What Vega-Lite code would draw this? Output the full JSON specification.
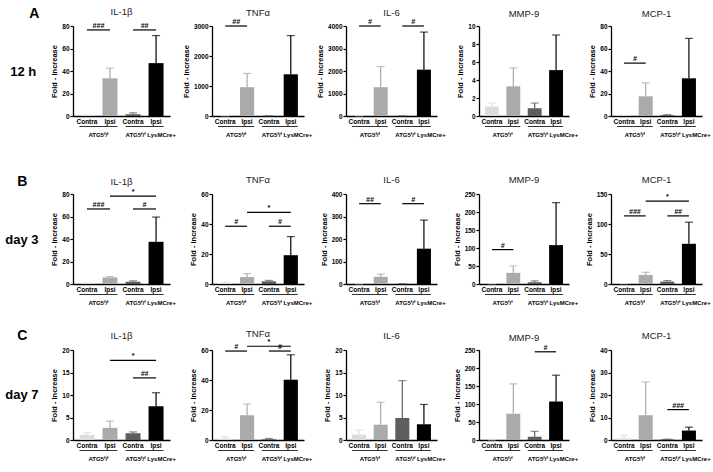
{
"$schema": "https://vega.github.io/schema/vega-lite/v6.json",
"padding": {"left": 5, "top": 7, "right": 0, "bottom": 0},
"datasets": {
"bars": [
{"panel":"12 h/IL-1β","cond":"ATG5 Contra","mean":0.5,"hi":0.7},
{"panel":"12 h/IL-1β","cond":"ATG5 Ipsi","mean":33.5,"hi":42.5},
{"panel":"12 h/IL-1β","cond":"LysMCre Contra","mean":1.5,"hi":2.8},
{"panel":"12 h/IL-1β","cond":"LysMCre Ipsi","mean":47,"hi":71.5},
{"panel":"12 h/TNFα","cond":"ATG5 Contra","mean":5,"hi":8},
{"panel":"12 h/TNFα","cond":"ATG5 Ipsi","mean":960,"hi":1420},
{"panel":"12 h/TNFα","cond":"LysMCre Contra","mean":5,"hi":8},
{"panel":"12 h/TNFα","cond":"LysMCre Ipsi","mean":1390,"hi":2680},
{"panel":"12 h/IL-6","cond":"ATG5 Contra","mean":5,"hi":8},
{"panel":"12 h/IL-6","cond":"ATG5 Ipsi","mean":1280,"hi":2200},
{"panel":"12 h/IL-6","cond":"LysMCre Contra","mean":5,"hi":8},
{"panel":"12 h/IL-6","cond":"LysMCre Ipsi","mean":2060,"hi":3730},
{"panel":"12 h/MMP-9","cond":"ATG5 Contra","mean":1.05,"hi":1.44},
{"panel":"12 h/MMP-9","cond":"ATG5 Ipsi","mean":3.3,"hi":5.35},
{"panel":"12 h/MMP-9","cond":"LysMCre Contra","mean":0.86,"hi":1.44},
{"panel":"12 h/MMP-9","cond":"LysMCre Ipsi","mean":5.1,"hi":9.0},
{"panel":"12 h/MCP-1","cond":"ATG5 Contra","mean":0.4,"hi":0.6},
{"panel":"12 h/MCP-1","cond":"ATG5 Ipsi","mean":17.5,"hi":29.5},
{"panel":"12 h/MCP-1","cond":"LysMCre Contra","mean":0.8,"hi":1.2},
{"panel":"12 h/MCP-1","cond":"LysMCre Ipsi","mean":33.5,"hi":69},
{"panel":"day 3/IL-1β","cond":"ATG5 Contra","mean":0.5,"hi":0.7},
{"panel":"day 3/IL-1β","cond":"ATG5 Ipsi","mean":5.8,"hi":6.6},
{"panel":"day 3/IL-1β","cond":"LysMCre Contra","mean":2.0,"hi":2.8},
{"panel":"day 3/IL-1β","cond":"LysMCre Ipsi","mean":37.5,"hi":59.5},
{"panel":"day 3/TNFα","cond":"ATG5 Contra","mean":0.8,"hi":1.2},
{"panel":"day 3/TNFα","cond":"ATG5 Ipsi","mean":4.6,"hi":6.9},
{"panel":"day 3/TNFα","cond":"LysMCre Contra","mean":1.8,"hi":2.4},
{"panel":"day 3/TNFα","cond":"LysMCre Ipsi","mean":19.2,"hi":31.6},
{"panel":"day 3/IL-6","cond":"ATG5 Contra","mean":0.5,"hi":0.7},
{"panel":"day 3/IL-6","cond":"ATG5 Ipsi","mean":32,"hi":44},
{"panel":"day 3/IL-6","cond":"LysMCre Contra","mean":1,"hi":1.5},
{"panel":"day 3/IL-6","cond":"LysMCre Ipsi","mean":157,"hi":284},
{"panel":"day 3/MMP-9","cond":"ATG5 Contra","mean":0.5,"hi":0.7},
{"panel":"day 3/MMP-9","cond":"ATG5 Ipsi","mean":31,"hi":50},
{"panel":"day 3/MMP-9","cond":"LysMCre Contra","mean":4.6,"hi":8.7},
{"panel":"day 3/MMP-9","cond":"LysMCre Ipsi","mean":108,"hi":226},
{"panel":"day 3/MCP-1","cond":"ATG5 Contra","mean":0.4,"hi":0.6},
{"panel":"day 3/MCP-1","cond":"ATG5 Ipsi","mean":15,"hi":19.6},
{"panel":"day 3/MCP-1","cond":"LysMCre Contra","mean":4,"hi":5.7},
{"panel":"day 3/MCP-1","cond":"LysMCre Ipsi","mean":67,"hi":103},
{"panel":"day 7/IL-1β","cond":"ATG5 Contra","mean":1.1,"hi":1.6},
{"panel":"day 7/IL-1β","cond":"ATG5 Ipsi","mean":2.7,"hi":4.2},
{"panel":"day 7/IL-1β","cond":"LysMCre Contra","mean":1.5,"hi":1.8},
{"panel":"day 7/IL-1β","cond":"LysMCre Ipsi","mean":7.5,"hi":10.5},
{"panel":"day 7/TNFα","cond":"ATG5 Contra","mean":0.9,"hi":2.1},
{"panel":"day 7/TNFα","cond":"ATG5 Ipsi","mean":16.5,"hi":24},
{"panel":"day 7/TNFα","cond":"LysMCre Contra","mean":0.5,"hi":1.0},
{"panel":"day 7/TNFα","cond":"LysMCre Ipsi","mean":40.2,"hi":56.8},
{"panel":"day 7/IL-6","cond":"ATG5 Contra","mean":1.2,"hi":2.2},
{"panel":"day 7/IL-6","cond":"ATG5 Ipsi","mean":3.4,"hi":8.4},
{"panel":"day 7/IL-6","cond":"LysMCre Contra","mean":4.9,"hi":13.2},
{"panel":"day 7/IL-6","cond":"LysMCre Ipsi","mean":3.5,"hi":7.9},
{"panel":"day 7/MMP-9","cond":"ATG5 Contra","mean":0.3,"hi":0.4},
{"panel":"day 7/MMP-9","cond":"ATG5 Ipsi","mean":73,"hi":156},
{"panel":"day 7/MMP-9","cond":"LysMCre Contra","mean":8.7,"hi":24},
{"panel":"day 7/MMP-9","cond":"LysMCre Ipsi","mean":107,"hi":180},
{"panel":"day 7/MCP-1","cond":"ATG5 Contra","mean":0.8,"hi":2.0},
{"panel":"day 7/MCP-1","cond":"ATG5 Ipsi","mean":11,"hi":25.8},
{"panel":"day 7/MCP-1","cond":"LysMCre Contra","mean":0.3,"hi":0.4},
{"panel":"day 7/MCP-1","cond":"LysMCre Ipsi","mean":4.2,"hi":5.7}
],
"sig": [
{"panel":"12 h/IL-1β","from":"ATG5 Contra","to":"ATG5 Ipsi","level":76.5,"sym":"###"},
{"panel":"12 h/IL-1β","from":"LysMCre Contra","to":"LysMCre Ipsi","level":76.5,"sym":"##"},
{"panel":"12 h/TNFα","from":"ATG5 Contra","to":"ATG5 Ipsi","level":3000,"sym":"##"},
{"panel":"12 h/IL-6","from":"ATG5 Contra","to":"ATG5 Ipsi","level":4000,"sym":"#"},
{"panel":"12 h/IL-6","from":"LysMCre Contra","to":"LysMCre Ipsi","level":4000,"sym":"#"},
{"panel":"12 h/MCP-1","from":"ATG5 Contra","to":"ATG5 Ipsi","level":47,"sym":"#"},
{"panel":"day 3/IL-1β","from":"ATG5 Contra","to":"ATG5 Ipsi","level":66.7,"sym":"###"},
{"panel":"day 3/IL-1β","from":"LysMCre Contra","to":"LysMCre Ipsi","level":66.7,"sym":"#"},
{"panel":"day 3/IL-1β","from":"ATG5 Ipsi","to":"LysMCre Ipsi","level":78.2,"sym":"*"},
{"panel":"day 3/TNFα","from":"ATG5 Contra","to":"ATG5 Ipsi","level":38.5,"sym":"#"},
{"panel":"day 3/TNFα","from":"LysMCre Contra","to":"LysMCre Ipsi","level":38.5,"sym":"#"},
{"panel":"day 3/TNFα","from":"ATG5 Ipsi","to":"LysMCre Ipsi","level":47.8,"sym":"*"},
{"panel":"day 3/IL-6","from":"ATG5 Contra","to":"ATG5 Ipsi","level":357,"sym":"##"},
{"panel":"day 3/IL-6","from":"LysMCre Contra","to":"LysMCre Ipsi","level":357,"sym":"#"},
{"panel":"day 3/MMP-9","from":"ATG5 Contra","to":"ATG5 Ipsi","level":95.5,"sym":"#"},
{"panel":"day 3/MCP-1","from":"ATG5 Contra","to":"ATG5 Ipsi","level":113.5,"sym":"###"},
{"panel":"day 3/MCP-1","from":"LysMCre Contra","to":"LysMCre Ipsi","level":113.5,"sym":"##"},
{"panel":"day 3/MCP-1","from":"ATG5 Ipsi","to":"LysMCre Ipsi","level":138,"sym":"*"},
{"panel":"day 7/IL-1β","from":"LysMCre Contra","to":"LysMCre Ipsi","level":13.8,"sym":"##"},
{"panel":"day 7/IL-1β","from":"ATG5 Ipsi","to":"LysMCre Ipsi","level":17.7,"sym":"*"},
{"panel":"day 7/TNFα","from":"ATG5 Contra","to":"ATG5 Ipsi","level":59.3,"sym":"#"},
{"panel":"day 7/TNFα","from":"LysMCre Contra","to":"LysMCre Ipsi","level":59.3,"sym":"#"},
{"panel":"day 7/TNFα","from":"ATG5 Ipsi","to":"LysMCre Ipsi","level":62.5,"sym":"*"},
{"panel":"day 7/MMP-9","from":"LysMCre Contra","to":"LysMCre Ipsi","level":245,"sym":"#"},
{"panel":"day 7/MCP-1","from":"LysMCre Contra","to":"LysMCre Ipsi","level":13.5,"sym":"###"}
],
"grp": [
{"from":"ATG5 Contra","to":"ATG5 Ipsi","label":"ATG5ᶠ/ᶠ"},
{"from":"LysMCre Contra","to":"LysMCre Ipsi","label":"ATG5ᶠ/ᶠ LysMCre+"}
]
},
"spacing": 36,
"vconcat": [
{"title":{"text":"A","orient":"top","anchor":"start","frame":"bounds","offset":-14,"fontSize":14,"fontWeight":"bold","color":"#000","dx":19},
 "hconcat":[{"title":{"text":"12 h","orient":"left","angle":0,"anchor":"middle","frame":"bounds","align":"right","baseline":"middle","fontSize":13,"fontWeight":"bold","color":"#000","offset":-21,"dx":-9.5},
  "spacing":42,"bounds":"flush","hconcat":[
{"width":97,"height":90,"title":{"text":"IL-1β","offset":5},"layer":[
{"data":{"name":"bars"},"transform":[{"filter":{"field":"panel","equal":"12 h/IL-1β"}}],"mark":"bar","encoding":{"x":{"field":"cond","type":"nominal","scale":{"domain":["ATG5 Contra","ATG5 Ipsi","LysMCre Contra","LysMCre Ipsi"],"paddingInner":0.35,"paddingOuter":0.28},"axis":{"labelExpr":"split(datum.value,' ')[1]","title":null}},"y":{"field":"mean","type":"quantitative","scale":{"domain":[0,80],"nice":false},"axis":{"values":[0,20,40,60,80],"labelOverlap":false,"title":"Fold - Increase"}},"color":{"field":"cond","type":"nominal","scale":{"domain":["ATG5 Contra","ATG5 Ipsi","LysMCre Contra","LysMCre Ipsi"],"range":["#dcdcdc","#aaaaaa","#5e5e5e","#000000"]},"legend":null}}},
{"data":{"name":"bars"},"transform":[{"filter":{"field":"panel","equal":"12 h/IL-1β"}}],"mark":{"type":"rule","strokeWidth":1.2},"encoding":{"x":{"field":"cond","type":"nominal","axis":{"labelExpr":"split(datum.value,' ')[1]","title":null}},"y":{"field":"mean","type":"quantitative","axis":{"values":[0,20,40,60,80],"labelOverlap":false,"title":"Fold - Increase"}},"y2":{"field":"hi"},"color":{"field":"cond","type":"nominal","legend":null}}},
{"data":{"name":"bars"},"transform":[{"filter":{"field":"panel","equal":"12 h/IL-1β"}}],"mark":{"type":"tick","thickness":1.2,"size":8},"encoding":{"x":{"field":"cond","type":"nominal","axis":{"labelExpr":"split(datum.value,' ')[1]","title":null}},"y":{"field":"hi","type":"quantitative","axis":{"values":[0,20,40,60,80],"labelOverlap":false,"title":"Fold - Increase"}},"color":{"field":"cond","type":"nominal","legend":null}}},
{"data":{"name":"sig"},"transform":[{"filter":{"field":"panel","equal":"12 h/IL-1β"}}],"mark":{"type":"rule","strokeWidth":1.2,"color":"#000"},"encoding":{"x":{"field":"from","type":"nominal","axis":{"labelExpr":"split(datum.value,' ')[1]","title":null}},"x2":{"field":"to"},"y":{"field":"level","type":"quantitative","axis":{"values":[0,20,40,60,80],"labelOverlap":false,"title":"Fold - Increase"}}}},
{"data":{"name":"sig"},"transform":[{"filter":{"field":"panel","equal":"12 h/IL-1β"}},{"filter":"datum.sym !== '*'"}],"mark":{"type":"text","fontSize":7,"fontWeight":"bold","fontStyle":"italic","baseline":"bottom","dy":-1,"color":"#000"},"encoding":{"x":{"field":"from","type":"nominal","bandPosition":1.269,"axis":{"labelExpr":"split(datum.value,' ')[1]","title":null}},"y":{"field":"level","type":"quantitative","axis":{"values":[0,20,40,60,80],"labelOverlap":false,"title":"Fold - Increase"}},"text":{"field":"sym"}}},
{"data":{"name":"grp"},"mark":{"type":"rule","yOffset":10.5,"strokeWidth":0.8,"color":"#000"},"encoding":{"x":{"field":"from","type":"nominal","bandPosition":0,"axis":{"labelExpr":"split(datum.value,' ')[1]","title":null}},"x2":{"field":"to","bandPosition":1},"y":{"datum":0,"type":"quantitative","axis":{"values":[0,20,40,60,80],"labelOverlap":false,"title":"Fold - Increase"}}}},
{"data":{"name":"grp"},"transform":[{"filter":"datum.from === 'ATG5 Contra'"}],"mark":{"type":"text","fontSize":6,"fontWeight":"bold","baseline":"middle","yOffset":18.5,"color":"#000"},"encoding":{"x":{"field":"from","type":"nominal","bandPosition":1.269,"axis":{"labelExpr":"split(datum.value,' ')[1]","title":null}},"y":{"datum":0,"type":"quantitative","axis":{"values":[0,20,40,60,80],"labelOverlap":false,"title":"Fold - Increase"}},"text":{"field":"label"}}},
{"data":{"name":"grp"},"transform":[{"filter":"datum.from === 'LysMCre Contra'"}],"mark":{"type":"text","fontSize":6,"fontWeight":"bold","baseline":"middle","align":"left","yOffset":18.5,"color":"#000"},"encoding":{"x":{"field":"from","type":"nominal","bandPosition":0,"axis":{"labelExpr":"split(datum.value,' ')[1]","title":null}},"y":{"datum":0,"type":"quantitative","axis":{"values":[0,20,40,60,80],"labelOverlap":false,"title":"Fold - Increase"}},"text":{"field":"label"}}}
]},
{"width":92,"height":90,"title":{"text":"TNFα","offset":1},"layer":[
{"data":{"name":"bars"},"transform":[{"filter":{"field":"panel","equal":"12 h/TNFα"}}],"mark":"bar","encoding":{"x":{"field":"cond","type":"nominal","scale":{"domain":["ATG5 Contra","ATG5 Ipsi","LysMCre Contra","LysMCre Ipsi"],"paddingInner":0.35,"paddingOuter":0.28},"axis":{"labelExpr":"split(datum.value,' ')[1]","title":null}},"y":{"field":"mean","type":"quantitative","scale":{"domain":[0,3000],"nice":false},"axis":{"values":[0,1000,2000,3000],"labelOverlap":false,"title":"Fold - Increase"}},"color":{"field":"cond","type":"nominal","scale":{"domain":["ATG5 Contra","ATG5 Ipsi","LysMCre Contra","LysMCre Ipsi"],"range":["#dcdcdc","#aaaaaa","#5e5e5e","#000000"]},"legend":null}}},
{"data":{"name":"bars"},"transform":[{"filter":{"field":"panel","equal":"12 h/TNFα"}}],"mark":{"type":"rule","strokeWidth":1.2},"encoding":{"x":{"field":"cond","type":"nominal","axis":{"labelExpr":"split(datum.value,' ')[1]","title":null}},"y":{"field":"mean","type":"quantitative","axis":{"values":[0,1000,2000,3000],"labelOverlap":false,"title":"Fold - Increase"}},"y2":{"field":"hi"},"color":{"field":"cond","type":"nominal","legend":null}}},
{"data":{"name":"bars"},"transform":[{"filter":{"field":"panel","equal":"12 h/TNFα"}}],"mark":{"type":"tick","thickness":1.2,"size":8},"encoding":{"x":{"field":"cond","type":"nominal","axis":{"labelExpr":"split(datum.value,' ')[1]","title":null}},"y":{"field":"hi","type":"quantitative","axis":{"values":[0,1000,2000,3000],"labelOverlap":false,"title":"Fold - Increase"}},"color":{"field":"cond","type":"nominal","legend":null}}},
{"data":{"name":"sig"},"transform":[{"filter":{"field":"panel","equal":"12 h/TNFα"}}],"mark":{"type":"rule","strokeWidth":1.2,"color":"#000"},"encoding":{"x":{"field":"from","type":"nominal","axis":{"labelExpr":"split(datum.value,' ')[1]","title":null}},"x2":{"field":"to"},"y":{"field":"level","type":"quantitative","axis":{"values":[0,1000,2000,3000],"labelOverlap":false,"title":"Fold - Increase"}}}},
{"data":{"name":"sig"},"transform":[{"filter":{"field":"panel","equal":"12 h/TNFα"}},{"filter":"datum.sym !== '*'"}],"mark":{"type":"text","fontSize":7,"fontWeight":"bold","fontStyle":"italic","baseline":"bottom","dy":-1,"color":"#000"},"encoding":{"x":{"field":"from","type":"nominal","bandPosition":1.269,"axis":{"labelExpr":"split(datum.value,' ')[1]","title":null}},"y":{"field":"level","type":"quantitative","axis":{"values":[0,1000,2000,3000],"labelOverlap":false,"title":"Fold - Increase"}},"text":{"field":"sym"}}},
{"data":{"name":"grp"},"mark":{"type":"rule","yOffset":10.5,"strokeWidth":0.8,"color":"#000"},"encoding":{"x":{"field":"from","type":"nominal","bandPosition":0,"axis":{"labelExpr":"split(datum.value,' ')[1]","title":null}},"x2":{"field":"to","bandPosition":1},"y":{"datum":0,"type":"quantitative","axis":{"values":[0,1000,2000,3000],"labelOverlap":false,"title":"Fold - Increase"}}}},
{"data":{"name":"grp"},"transform":[{"filter":"datum.from === 'ATG5 Contra'"}],"mark":{"type":"text","fontSize":6,"fontWeight":"bold","baseline":"middle","yOffset":18.5,"color":"#000"},"encoding":{"x":{"field":"from","type":"nominal","bandPosition":1.269,"axis":{"labelExpr":"split(datum.value,' ')[1]","title":null}},"y":{"datum":0,"type":"quantitative","axis":{"values":[0,1000,2000,3000],"labelOverlap":false,"title":"Fold - Increase"}},"text":{"field":"label"}}},
{"data":{"name":"grp"},"transform":[{"filter":"datum.from === 'LysMCre Contra'"}],"mark":{"type":"text","fontSize":6,"fontWeight":"bold","baseline":"middle","align":"left","yOffset":18.5,"color":"#000"},"encoding":{"x":{"field":"from","type":"nominal","bandPosition":0,"axis":{"labelExpr":"split(datum.value,' ')[1]","title":null}},"y":{"datum":0,"type":"quantitative","axis":{"values":[0,1000,2000,3000],"labelOverlap":false,"title":"Fold - Increase"}},"text":{"field":"label"}}}
]},
{"width":91,"height":90,"title":{"text":"IL-6","offset":1},"layer":[
{"data":{"name":"bars"},"transform":[{"filter":{"field":"panel","equal":"12 h/IL-6"}}],"mark":"bar","encoding":{"x":{"field":"cond","type":"nominal","scale":{"domain":["ATG5 Contra","ATG5 Ipsi","LysMCre Contra","LysMCre Ipsi"],"paddingInner":0.35,"paddingOuter":0.28},"axis":{"labelExpr":"split(datum.value,' ')[1]","title":null}},"y":{"field":"mean","type":"quantitative","scale":{"domain":[0,4000],"nice":false},"axis":{"values":[0,1000,2000,3000,4000],"labelOverlap":false,"title":"Fold - Increase"}},"color":{"field":"cond","type":"nominal","scale":{"domain":["ATG5 Contra","ATG5 Ipsi","LysMCre Contra","LysMCre Ipsi"],"range":["#dcdcdc","#aaaaaa","#5e5e5e","#000000"]},"legend":null}}},
{"data":{"name":"bars"},"transform":[{"filter":{"field":"panel","equal":"12 h/IL-6"}}],"mark":{"type":"rule","strokeWidth":1.2},"encoding":{"x":{"field":"cond","type":"nominal","axis":{"labelExpr":"split(datum.value,' ')[1]","title":null}},"y":{"field":"mean","type":"quantitative","axis":{"values":[0,1000,2000,3000,4000],"labelOverlap":false,"title":"Fold - Increase"}},"y2":{"field":"hi"},"color":{"field":"cond","type":"nominal","legend":null}}},
{"data":{"name":"bars"},"transform":[{"filter":{"field":"panel","equal":"12 h/IL-6"}}],"mark":{"type":"tick","thickness":1.2,"size":8},"encoding":{"x":{"field":"cond","type":"nominal","axis":{"labelExpr":"split(datum.value,' ')[1]","title":null}},"y":{"field":"hi","type":"quantitative","axis":{"values":[0,1000,2000,3000,4000],"labelOverlap":false,"title":"Fold - Increase"}},"color":{"field":"cond","type":"nominal","legend":null}}},
{"data":{"name":"sig"},"transform":[{"filter":{"field":"panel","equal":"12 h/IL-6"}}],"mark":{"type":"rule","strokeWidth":1.2,"color":"#000"},"encoding":{"x":{"field":"from","type":"nominal","axis":{"labelExpr":"split(datum.value,' ')[1]","title":null}},"x2":{"field":"to"},"y":{"field":"level","type":"quantitative","axis":{"values":[0,1000,2000,3000,4000],"labelOverlap":false,"title":"Fold - Increase"}}}},
{"data":{"name":"sig"},"transform":[{"filter":{"field":"panel","equal":"12 h/IL-6"}},{"filter":"datum.sym !== '*'"}],"mark":{"type":"text","fontSize":7,"fontWeight":"bold","fontStyle":"italic","baseline":"bottom","dy":-1,"color":"#000"},"encoding":{"x":{"field":"from","type":"nominal","bandPosition":1.269,"axis":{"labelExpr":"split(datum.value,' ')[1]","title":null}},"y":{"field":"level","type":"quantitative","axis":{"values":[0,1000,2000,3000,4000],"labelOverlap":false,"title":"Fold - Increase"}},"text":{"field":"sym"}}},
{"data":{"name":"grp"},"mark":{"type":"rule","yOffset":10.5,"strokeWidth":0.8,"color":"#000"},"encoding":{"x":{"field":"from","type":"nominal","bandPosition":0,"axis":{"labelExpr":"split(datum.value,' ')[1]","title":null}},"x2":{"field":"to","bandPosition":1},"y":{"datum":0,"type":"quantitative","axis":{"values":[0,1000,2000,3000,4000],"labelOverlap":false,"title":"Fold - Increase"}}}},
{"data":{"name":"grp"},"transform":[{"filter":"datum.from === 'ATG5 Contra'"}],"mark":{"type":"text","fontSize":6,"fontWeight":"bold","baseline":"middle","yOffset":18.5,"color":"#000"},"encoding":{"x":{"field":"from","type":"nominal","bandPosition":1.269,"axis":{"labelExpr":"split(datum.value,' ')[1]","title":null}},"y":{"datum":0,"type":"quantitative","axis":{"values":[0,1000,2000,3000,4000],"labelOverlap":false,"title":"Fold - Increase"}},"text":{"field":"label"}}},
{"data":{"name":"grp"},"transform":[{"filter":"datum.from === 'LysMCre Contra'"}],"mark":{"type":"text","fontSize":6,"fontWeight":"bold","baseline":"middle","align":"left","yOffset":18.5,"color":"#000"},"encoding":{"x":{"field":"from","type":"nominal","bandPosition":0,"axis":{"labelExpr":"split(datum.value,' ')[1]","title":null}},"y":{"datum":0,"type":"quantitative","axis":{"values":[0,1000,2000,3000,4000],"labelOverlap":false,"title":"Fold - Increase"}},"text":{"field":"label"}}}
]},
{"width":90,"height":90,"title":{"text":"MMP-9","offset":5},"layer":[
{"data":{"name":"bars"},"transform":[{"filter":{"field":"panel","equal":"12 h/MMP-9"}}],"mark":"bar","encoding":{"x":{"field":"cond","type":"nominal","scale":{"domain":["ATG5 Contra","ATG5 Ipsi","LysMCre Contra","LysMCre Ipsi"],"paddingInner":0.35,"paddingOuter":0.28},"axis":{"labelExpr":"split(datum.value,' ')[1]","title":null}},"y":{"field":"mean","type":"quantitative","scale":{"domain":[0,10],"nice":false},"axis":{"values":[0,2,4,6,8,10],"labelOverlap":false,"title":"Fold - Increase"}},"color":{"field":"cond","type":"nominal","scale":{"domain":["ATG5 Contra","ATG5 Ipsi","LysMCre Contra","LysMCre Ipsi"],"range":["#dcdcdc","#aaaaaa","#5e5e5e","#000000"]},"legend":null}}},
{"data":{"name":"bars"},"transform":[{"filter":{"field":"panel","equal":"12 h/MMP-9"}}],"mark":{"type":"rule","strokeWidth":1.2},"encoding":{"x":{"field":"cond","type":"nominal","axis":{"labelExpr":"split(datum.value,' ')[1]","title":null}},"y":{"field":"mean","type":"quantitative","axis":{"values":[0,2,4,6,8,10],"labelOverlap":false,"title":"Fold - Increase"}},"y2":{"field":"hi"},"color":{"field":"cond","type":"nominal","legend":null}}},
{"data":{"name":"bars"},"transform":[{"filter":{"field":"panel","equal":"12 h/MMP-9"}}],"mark":{"type":"tick","thickness":1.2,"size":8},"encoding":{"x":{"field":"cond","type":"nominal","axis":{"labelExpr":"split(datum.value,' ')[1]","title":null}},"y":{"field":"hi","type":"quantitative","axis":{"values":[0,2,4,6,8,10],"labelOverlap":false,"title":"Fold - Increase"}},"color":{"field":"cond","type":"nominal","legend":null}}},
{"data":{"name":"grp"},"mark":{"type":"rule","yOffset":10.5,"strokeWidth":0.8,"color":"#000"},"encoding":{"x":{"field":"from","type":"nominal","bandPosition":0,"axis":{"labelExpr":"split(datum.value,' ')[1]","title":null}},"x2":{"field":"to","bandPosition":1},"y":{"datum":0,"type":"quantitative","axis":{"values":[0,2,4,6,8,10],"labelOverlap":false,"title":"Fold - Increase"}}}},
{"data":{"name":"grp"},"transform":[{"filter":"datum.from === 'ATG5 Contra'"}],"mark":{"type":"text","fontSize":6,"fontWeight":"bold","baseline":"middle","yOffset":18.5,"color":"#000"},"encoding":{"x":{"field":"from","type":"nominal","bandPosition":1.269,"axis":{"labelExpr":"split(datum.value,' ')[1]","title":null}},"y":{"datum":0,"type":"quantitative","axis":{"values":[0,2,4,6,8,10],"labelOverlap":false,"title":"Fold - Increase"}},"text":{"field":"label"}}},
{"data":{"name":"grp"},"transform":[{"filter":"datum.from === 'LysMCre Contra'"}],"mark":{"type":"text","fontSize":6,"fontWeight":"bold","baseline":"middle","align":"left","yOffset":18.5,"color":"#000"},"encoding":{"x":{"field":"from","type":"nominal","bandPosition":0,"axis":{"labelExpr":"split(datum.value,' ')[1]","title":null}},"y":{"datum":0,"type":"quantitative","axis":{"values":[0,2,4,6,8,10],"labelOverlap":false,"title":"Fold - Increase"}},"text":{"field":"label"}}}
]},
{"width":91,"height":90,"title":{"text":"MCP-1","offset":5},"layer":[
{"data":{"name":"bars"},"transform":[{"filter":{"field":"panel","equal":"12 h/MCP-1"}}],"mark":"bar","encoding":{"x":{"field":"cond","type":"nominal","scale":{"domain":["ATG5 Contra","ATG5 Ipsi","LysMCre Contra","LysMCre Ipsi"],"paddingInner":0.35,"paddingOuter":0.28},"axis":{"labelExpr":"split(datum.value,' ')[1]","title":null}},"y":{"field":"mean","type":"quantitative","scale":{"domain":[0,80],"nice":false},"axis":{"values":[0,20,40,60,80],"labelOverlap":false,"title":"Fold - Increase"}},"color":{"field":"cond","type":"nominal","scale":{"domain":["ATG5 Contra","ATG5 Ipsi","LysMCre Contra","LysMCre Ipsi"],"range":["#dcdcdc","#aaaaaa","#5e5e5e","#000000"]},"legend":null}}},
{"data":{"name":"bars"},"transform":[{"filter":{"field":"panel","equal":"12 h/MCP-1"}}],"mark":{"type":"rule","strokeWidth":1.2},"encoding":{"x":{"field":"cond","type":"nominal","axis":{"labelExpr":"split(datum.value,' ')[1]","title":null}},"y":{"field":"mean","type":"quantitative","axis":{"values":[0,20,40,60,80],"labelOverlap":false,"title":"Fold - Increase"}},"y2":{"field":"hi"},"color":{"field":"cond","type":"nominal","legend":null}}},
{"data":{"name":"bars"},"transform":[{"filter":{"field":"panel","equal":"12 h/MCP-1"}}],"mark":{"type":"tick","thickness":1.2,"size":8},"encoding":{"x":{"field":"cond","type":"nominal","axis":{"labelExpr":"split(datum.value,' ')[1]","title":null}},"y":{"field":"hi","type":"quantitative","axis":{"values":[0,20,40,60,80],"labelOverlap":false,"title":"Fold - Increase"}},"color":{"field":"cond","type":"nominal","legend":null}}},
{"data":{"name":"sig"},"transform":[{"filter":{"field":"panel","equal":"12 h/MCP-1"}}],"mark":{"type":"rule","strokeWidth":1.2,"color":"#000"},"encoding":{"x":{"field":"from","type":"nominal","axis":{"labelExpr":"split(datum.value,' ')[1]","title":null}},"x2":{"field":"to"},"y":{"field":"level","type":"quantitative","axis":{"values":[0,20,40,60,80],"labelOverlap":false,"title":"Fold - Increase"}}}},
{"data":{"name":"sig"},"transform":[{"filter":{"field":"panel","equal":"12 h/MCP-1"}},{"filter":"datum.sym !== '*'"}],"mark":{"type":"text","fontSize":7,"fontWeight":"bold","fontStyle":"italic","baseline":"bottom","dy":-1,"color":"#000"},"encoding":{"x":{"field":"from","type":"nominal","bandPosition":1.269,"axis":{"labelExpr":"split(datum.value,' ')[1]","title":null}},"y":{"field":"level","type":"quantitative","axis":{"values":[0,20,40,60,80],"labelOverlap":false,"title":"Fold - Increase"}},"text":{"field":"sym"}}},
{"data":{"name":"grp"},"mark":{"type":"rule","yOffset":10.5,"strokeWidth":0.8,"color":"#000"},"encoding":{"x":{"field":"from","type":"nominal","bandPosition":0,"axis":{"labelExpr":"split(datum.value,' ')[1]","title":null}},"x2":{"field":"to","bandPosition":1},"y":{"datum":0,"type":"quantitative","axis":{"values":[0,20,40,60,80],"labelOverlap":false,"title":"Fold - Increase"}}}},
{"data":{"name":"grp"},"transform":[{"filter":"datum.from === 'ATG5 Contra'"}],"mark":{"type":"text","fontSize":6,"fontWeight":"bold","baseline":"middle","yOffset":18.5,"color":"#000"},"encoding":{"x":{"field":"from","type":"nominal","bandPosition":1.269,"axis":{"labelExpr":"split(datum.value,' ')[1]","title":null}},"y":{"datum":0,"type":"quantitative","axis":{"values":[0,20,40,60,80],"labelOverlap":false,"title":"Fold - Increase"}},"text":{"field":"label"}}},
{"data":{"name":"grp"},"transform":[{"filter":"datum.from === 'LysMCre Contra'"}],"mark":{"type":"text","fontSize":6,"fontWeight":"bold","baseline":"middle","align":"left","yOffset":18.5,"color":"#000"},"encoding":{"x":{"field":"from","type":"nominal","bandPosition":0,"axis":{"labelExpr":"split(datum.value,' ')[1]","title":null}},"y":{"datum":0,"type":"quantitative","axis":{"values":[0,20,40,60,80],"labelOverlap":false,"title":"Fold - Increase"}},"text":{"field":"label"}}}
]}
]}]},
{"spacing":22,"vconcat":[
{"title":{"text":"B","orient":"top","anchor":"start","frame":"bounds","offset":-14,"fontSize":14,"fontWeight":"bold","color":"#000","dx":12},
 "hconcat":[{"title":{"text":"day 3","orient":"left","angle":0,"anchor":"middle","frame":"bounds","align":"right","baseline":"middle","fontSize":13,"fontWeight":"bold","color":"#000","offset":-21},
  "spacing":42,"bounds":"flush","hconcat":[
{"width":97,"height":90,"title":{"text":"IL-1β","offset":2},"layer":[
{"data":{"name":"bars"},"transform":[{"filter":{"field":"panel","equal":"day 3/IL-1β"}}],"mark":"bar","encoding":{"x":{"field":"cond","type":"nominal","scale":{"domain":["ATG5 Contra","ATG5 Ipsi","LysMCre Contra","LysMCre Ipsi"],"paddingInner":0.35,"paddingOuter":0.28},"axis":{"labelExpr":"split(datum.value,' ')[1]","title":null}},"y":{"field":"mean","type":"quantitative","scale":{"domain":[0,80],"nice":false},"axis":{"values":[0,20,40,60,80],"labelOverlap":false,"title":"Fold - Increase"}},"color":{"field":"cond","type":"nominal","scale":{"domain":["ATG5 Contra","ATG5 Ipsi","LysMCre Contra","LysMCre Ipsi"],"range":["#dcdcdc","#aaaaaa","#5e5e5e","#000000"]},"legend":null}}},
{"data":{"name":"bars"},"transform":[{"filter":{"field":"panel","equal":"day 3/IL-1β"}}],"mark":{"type":"rule","strokeWidth":1.2},"encoding":{"x":{"field":"cond","type":"nominal","axis":{"labelExpr":"split(datum.value,' ')[1]","title":null}},"y":{"field":"mean","type":"quantitative","axis":{"values":[0,20,40,60,80],"labelOverlap":false,"title":"Fold - Increase"}},"y2":{"field":"hi"},"color":{"field":"cond","type":"nominal","legend":null}}},
{"data":{"name":"bars"},"transform":[{"filter":{"field":"panel","equal":"day 3/IL-1β"}}],"mark":{"type":"tick","thickness":1.2,"size":8},"encoding":{"x":{"field":"cond","type":"nominal","axis":{"labelExpr":"split(datum.value,' ')[1]","title":null}},"y":{"field":"hi","type":"quantitative","axis":{"values":[0,20,40,60,80],"labelOverlap":false,"title":"Fold - Increase"}},"color":{"field":"cond","type":"nominal","legend":null}}},
{"data":{"name":"sig"},"transform":[{"filter":{"field":"panel","equal":"day 3/IL-1β"}}],"mark":{"type":"rule","strokeWidth":1.2,"color":"#000"},"encoding":{"x":{"field":"from","type":"nominal","axis":{"labelExpr":"split(datum.value,' ')[1]","title":null}},"x2":{"field":"to"},"y":{"field":"level","type":"quantitative","axis":{"values":[0,20,40,60,80],"labelOverlap":false,"title":"Fold - Increase"}}}},
{"data":{"name":"sig"},"transform":[{"filter":{"field":"panel","equal":"day 3/IL-1β"}},{"filter":"datum.sym !== '*'"}],"mark":{"type":"text","fontSize":7,"fontWeight":"bold","fontStyle":"italic","baseline":"bottom","dy":-1,"color":"#000"},"encoding":{"x":{"field":"from","type":"nominal","bandPosition":1.269,"axis":{"labelExpr":"split(datum.value,' ')[1]","title":null}},"y":{"field":"level","type":"quantitative","axis":{"values":[0,20,40,60,80],"labelOverlap":false,"title":"Fold - Increase"}},"text":{"field":"sym"}}},
{"data":{"name":"sig"},"transform":[{"filter":{"field":"panel","equal":"day 3/IL-1β"}},{"filter":"datum.sym === '*'"}],"mark":{"type":"text","fontSize":7,"fontWeight":"bold","baseline":"bottom","dy":-1,"color":"#000"},"encoding":{"x":{"field":"from","type":"nominal","bandPosition":2.038,"axis":{"labelExpr":"split(datum.value,' ')[1]","title":null}},"y":{"field":"level","type":"quantitative","axis":{"values":[0,20,40,60,80],"labelOverlap":false,"title":"Fold - Increase"}},"text":{"field":"sym"}}},
{"data":{"name":"grp"},"mark":{"type":"rule","yOffset":10.5,"strokeWidth":0.8,"color":"#000"},"encoding":{"x":{"field":"from","type":"nominal","bandPosition":0,"axis":{"labelExpr":"split(datum.value,' ')[1]","title":null}},"x2":{"field":"to","bandPosition":1},"y":{"datum":0,"type":"quantitative","axis":{"values":[0,20,40,60,80],"labelOverlap":false,"title":"Fold - Increase"}}}},
{"data":{"name":"grp"},"transform":[{"filter":"datum.from === 'ATG5 Contra'"}],"mark":{"type":"text","fontSize":6,"fontWeight":"bold","baseline":"middle","yOffset":18.5,"color":"#000"},"encoding":{"x":{"field":"from","type":"nominal","bandPosition":1.269,"axis":{"labelExpr":"split(datum.value,' ')[1]","title":null}},"y":{"datum":0,"type":"quantitative","axis":{"values":[0,20,40,60,80],"labelOverlap":false,"title":"Fold - Increase"}},"text":{"field":"label"}}},
{"data":{"name":"grp"},"transform":[{"filter":"datum.from === 'LysMCre Contra'"}],"mark":{"type":"text","fontSize":6,"fontWeight":"bold","baseline":"middle","align":"left","yOffset":18.5,"color":"#000"},"encoding":{"x":{"field":"from","type":"nominal","bandPosition":0,"axis":{"labelExpr":"split(datum.value,' ')[1]","title":null}},"y":{"datum":0,"type":"quantitative","axis":{"values":[0,20,40,60,80],"labelOverlap":false,"title":"Fold - Increase"}},"text":{"field":"label"}}}
]},
{"width":92,"height":90,"title":{"text":"TNFα","offset":7},"layer":[
{"data":{"name":"bars"},"transform":[{"filter":{"field":"panel","equal":"day 3/TNFα"}}],"mark":"bar","encoding":{"x":{"field":"cond","type":"nominal","scale":{"domain":["ATG5 Contra","ATG5 Ipsi","LysMCre Contra","LysMCre Ipsi"],"paddingInner":0.35,"paddingOuter":0.28},"axis":{"labelExpr":"split(datum.value,' ')[1]","title":null}},"y":{"field":"mean","type":"quantitative","scale":{"domain":[0,60],"nice":false},"axis":{"values":[0,20,40,60],"labelOverlap":false,"title":"Fold - Increase"}},"color":{"field":"cond","type":"nominal","scale":{"domain":["ATG5 Contra","ATG5 Ipsi","LysMCre Contra","LysMCre Ipsi"],"range":["#dcdcdc","#aaaaaa","#5e5e5e","#000000"]},"legend":null}}},
{"data":{"name":"bars"},"transform":[{"filter":{"field":"panel","equal":"day 3/TNFα"}}],"mark":{"type":"rule","strokeWidth":1.2},"encoding":{"x":{"field":"cond","type":"nominal","axis":{"labelExpr":"split(datum.value,' ')[1]","title":null}},"y":{"field":"mean","type":"quantitative","axis":{"values":[0,20,40,60],"labelOverlap":false,"title":"Fold - Increase"}},"y2":{"field":"hi"},"color":{"field":"cond","type":"nominal","legend":null}}},
{"data":{"name":"bars"},"transform":[{"filter":{"field":"panel","equal":"day 3/TNFα"}}],"mark":{"type":"tick","thickness":1.2,"size":8},"encoding":{"x":{"field":"cond","type":"nominal","axis":{"labelExpr":"split(datum.value,' ')[1]","title":null}},"y":{"field":"hi","type":"quantitative","axis":{"values":[0,20,40,60],"labelOverlap":false,"title":"Fold - Increase"}},"color":{"field":"cond","type":"nominal","legend":null}}},
{"data":{"name":"sig"},"transform":[{"filter":{"field":"panel","equal":"day 3/TNFα"}}],"mark":{"type":"rule","strokeWidth":1.2,"color":"#000"},"encoding":{"x":{"field":"from","type":"nominal","axis":{"labelExpr":"split(datum.value,' ')[1]","title":null}},"x2":{"field":"to"},"y":{"field":"level","type":"quantitative","axis":{"values":[0,20,40,60],"labelOverlap":false,"title":"Fold - Increase"}}}},
{"data":{"name":"sig"},"transform":[{"filter":{"field":"panel","equal":"day 3/TNFα"}},{"filter":"datum.sym !== '*'"}],"mark":{"type":"text","fontSize":7,"fontWeight":"bold","fontStyle":"italic","baseline":"bottom","dy":-1,"color":"#000"},"encoding":{"x":{"field":"from","type":"nominal","bandPosition":1.269,"axis":{"labelExpr":"split(datum.value,' ')[1]","title":null}},"y":{"field":"level","type":"quantitative","axis":{"values":[0,20,40,60],"labelOverlap":false,"title":"Fold - Increase"}},"text":{"field":"sym"}}},
{"data":{"name":"sig"},"transform":[{"filter":{"field":"panel","equal":"day 3/TNFα"}},{"filter":"datum.sym === '*'"}],"mark":{"type":"text","fontSize":7,"fontWeight":"bold","baseline":"bottom","dy":-1,"color":"#000"},"encoding":{"x":{"field":"from","type":"nominal","bandPosition":2.038,"axis":{"labelExpr":"split(datum.value,' ')[1]","title":null}},"y":{"field":"level","type":"quantitative","axis":{"values":[0,20,40,60],"labelOverlap":false,"title":"Fold - Increase"}},"text":{"field":"sym"}}},
{"data":{"name":"grp"},"mark":{"type":"rule","yOffset":10.5,"strokeWidth":0.8,"color":"#000"},"encoding":{"x":{"field":"from","type":"nominal","bandPosition":0,"axis":{"labelExpr":"split(datum.value,' ')[1]","title":null}},"x2":{"field":"to","bandPosition":1},"y":{"datum":0,"type":"quantitative","axis":{"values":[0,20,40,60],"labelOverlap":false,"title":"Fold - Increase"}}}},
{"data":{"name":"grp"},"transform":[{"filter":"datum.from === 'ATG5 Contra'"}],"mark":{"type":"text","fontSize":6,"fontWeight":"bold","baseline":"middle","yOffset":18.5,"color":"#000"},"encoding":{"x":{"field":"from","type":"nominal","bandPosition":1.269,"axis":{"labelExpr":"split(datum.value,' ')[1]","title":null}},"y":{"datum":0,"type":"quantitative","axis":{"values":[0,20,40,60],"labelOverlap":false,"title":"Fold - Increase"}},"text":{"field":"label"}}},
{"data":{"name":"grp"},"transform":[{"filter":"datum.from === 'LysMCre Contra'"}],"mark":{"type":"text","fontSize":6,"fontWeight":"bold","baseline":"middle","align":"left","yOffset":18.5,"color":"#000"},"encoding":{"x":{"field":"from","type":"nominal","bandPosition":0,"axis":{"labelExpr":"split(datum.value,' ')[1]","title":null}},"y":{"datum":0,"type":"quantitative","axis":{"values":[0,20,40,60],"labelOverlap":false,"title":"Fold - Increase"}},"text":{"field":"label"}}}
]},
{"width":91,"height":90,"title":{"text":"IL-6","offset":7},"layer":[
{"data":{"name":"bars"},"transform":[{"filter":{"field":"panel","equal":"day 3/IL-6"}}],"mark":"bar","encoding":{"x":{"field":"cond","type":"nominal","scale":{"domain":["ATG5 Contra","ATG5 Ipsi","LysMCre Contra","LysMCre Ipsi"],"paddingInner":0.35,"paddingOuter":0.28},"axis":{"labelExpr":"split(datum.value,' ')[1]","title":null}},"y":{"field":"mean","type":"quantitative","scale":{"domain":[0,400],"nice":false},"axis":{"values":[0,100,200,300,400],"labelOverlap":false,"title":"Fold - Increase"}},"color":{"field":"cond","type":"nominal","scale":{"domain":["ATG5 Contra","ATG5 Ipsi","LysMCre Contra","LysMCre Ipsi"],"range":["#dcdcdc","#aaaaaa","#5e5e5e","#000000"]},"legend":null}}},
{"data":{"name":"bars"},"transform":[{"filter":{"field":"panel","equal":"day 3/IL-6"}}],"mark":{"type":"rule","strokeWidth":1.2},"encoding":{"x":{"field":"cond","type":"nominal","axis":{"labelExpr":"split(datum.value,' ')[1]","title":null}},"y":{"field":"mean","type":"quantitative","axis":{"values":[0,100,200,300,400],"labelOverlap":false,"title":"Fold - Increase"}},"y2":{"field":"hi"},"color":{"field":"cond","type":"nominal","legend":null}}},
{"data":{"name":"bars"},"transform":[{"filter":{"field":"panel","equal":"day 3/IL-6"}}],"mark":{"type":"tick","thickness":1.2,"size":8},"encoding":{"x":{"field":"cond","type":"nominal","axis":{"labelExpr":"split(datum.value,' ')[1]","title":null}},"y":{"field":"hi","type":"quantitative","axis":{"values":[0,100,200,300,400],"labelOverlap":false,"title":"Fold - Increase"}},"color":{"field":"cond","type":"nominal","legend":null}}},
{"data":{"name":"sig"},"transform":[{"filter":{"field":"panel","equal":"day 3/IL-6"}}],"mark":{"type":"rule","strokeWidth":1.2,"color":"#000"},"encoding":{"x":{"field":"from","type":"nominal","axis":{"labelExpr":"split(datum.value,' ')[1]","title":null}},"x2":{"field":"to"},"y":{"field":"level","type":"quantitative","axis":{"values":[0,100,200,300,400],"labelOverlap":false,"title":"Fold - Increase"}}}},
{"data":{"name":"sig"},"transform":[{"filter":{"field":"panel","equal":"day 3/IL-6"}},{"filter":"datum.sym !== '*'"}],"mark":{"type":"text","fontSize":7,"fontWeight":"bold","fontStyle":"italic","baseline":"bottom","dy":-1,"color":"#000"},"encoding":{"x":{"field":"from","type":"nominal","bandPosition":1.269,"axis":{"labelExpr":"split(datum.value,' ')[1]","title":null}},"y":{"field":"level","type":"quantitative","axis":{"values":[0,100,200,300,400],"labelOverlap":false,"title":"Fold - Increase"}},"text":{"field":"sym"}}},
{"data":{"name":"grp"},"mark":{"type":"rule","yOffset":10.5,"strokeWidth":0.8,"color":"#000"},"encoding":{"x":{"field":"from","type":"nominal","bandPosition":0,"axis":{"labelExpr":"split(datum.value,' ')[1]","title":null}},"x2":{"field":"to","bandPosition":1},"y":{"datum":0,"type":"quantitative","axis":{"values":[0,100,200,300,400],"labelOverlap":false,"title":"Fold - Increase"}}}},
{"data":{"name":"grp"},"transform":[{"filter":"datum.from === 'ATG5 Contra'"}],"mark":{"type":"text","fontSize":6,"fontWeight":"bold","baseline":"middle","yOffset":18.5,"color":"#000"},"encoding":{"x":{"field":"from","type":"nominal","bandPosition":1.269,"axis":{"labelExpr":"split(datum.value,' ')[1]","title":null}},"y":{"datum":0,"type":"quantitative","axis":{"values":[0,100,200,300,400],"labelOverlap":false,"title":"Fold - Increase"}},"text":{"field":"label"}}},
{"data":{"name":"grp"},"transform":[{"filter":"datum.from === 'LysMCre Contra'"}],"mark":{"type":"text","fontSize":6,"fontWeight":"bold","baseline":"middle","align":"left","yOffset":18.5,"color":"#000"},"encoding":{"x":{"field":"from","type":"nominal","bandPosition":0,"axis":{"labelExpr":"split(datum.value,' ')[1]","title":null}},"y":{"datum":0,"type":"quantitative","axis":{"values":[0,100,200,300,400],"labelOverlap":false,"title":"Fold - Increase"}},"text":{"field":"label"}}}
]},
{"width":90,"height":90,"title":{"text":"MMP-9","offset":7},"layer":[
{"data":{"name":"bars"},"transform":[{"filter":{"field":"panel","equal":"day 3/MMP-9"}}],"mark":"bar","encoding":{"x":{"field":"cond","type":"nominal","scale":{"domain":["ATG5 Contra","ATG5 Ipsi","LysMCre Contra","LysMCre Ipsi"],"paddingInner":0.35,"paddingOuter":0.28},"axis":{"labelExpr":"split(datum.value,' ')[1]","title":null}},"y":{"field":"mean","type":"quantitative","scale":{"domain":[0,250],"nice":false},"axis":{"values":[0,50,100,150,200,250],"labelOverlap":false,"title":"Fold - Increase"}},"color":{"field":"cond","type":"nominal","scale":{"domain":["ATG5 Contra","ATG5 Ipsi","LysMCre Contra","LysMCre Ipsi"],"range":["#dcdcdc","#aaaaaa","#5e5e5e","#000000"]},"legend":null}}},
{"data":{"name":"bars"},"transform":[{"filter":{"field":"panel","equal":"day 3/MMP-9"}}],"mark":{"type":"rule","strokeWidth":1.2},"encoding":{"x":{"field":"cond","type":"nominal","axis":{"labelExpr":"split(datum.value,' ')[1]","title":null}},"y":{"field":"mean","type":"quantitative","axis":{"values":[0,50,100,150,200,250],"labelOverlap":false,"title":"Fold - Increase"}},"y2":{"field":"hi"},"color":{"field":"cond","type":"nominal","legend":null}}},
{"data":{"name":"bars"},"transform":[{"filter":{"field":"panel","equal":"day 3/MMP-9"}}],"mark":{"type":"tick","thickness":1.2,"size":8},"encoding":{"x":{"field":"cond","type":"nominal","axis":{"labelExpr":"split(datum.value,' ')[1]","title":null}},"y":{"field":"hi","type":"quantitative","axis":{"values":[0,50,100,150,200,250],"labelOverlap":false,"title":"Fold - Increase"}},"color":{"field":"cond","type":"nominal","legend":null}}},
{"data":{"name":"sig"},"transform":[{"filter":{"field":"panel","equal":"day 3/MMP-9"}}],"mark":{"type":"rule","strokeWidth":1.2,"color":"#000"},"encoding":{"x":{"field":"from","type":"nominal","axis":{"labelExpr":"split(datum.value,' ')[1]","title":null}},"x2":{"field":"to"},"y":{"field":"level","type":"quantitative","axis":{"values":[0,50,100,150,200,250],"labelOverlap":false,"title":"Fold - Increase"}}}},
{"data":{"name":"sig"},"transform":[{"filter":{"field":"panel","equal":"day 3/MMP-9"}},{"filter":"datum.sym !== '*'"}],"mark":{"type":"text","fontSize":7,"fontWeight":"bold","fontStyle":"italic","baseline":"bottom","dy":-1,"color":"#000"},"encoding":{"x":{"field":"from","type":"nominal","bandPosition":1.269,"axis":{"labelExpr":"split(datum.value,' ')[1]","title":null}},"y":{"field":"level","type":"quantitative","axis":{"values":[0,50,100,150,200,250],"labelOverlap":false,"title":"Fold - Increase"}},"text":{"field":"sym"}}},
{"data":{"name":"grp"},"mark":{"type":"rule","yOffset":10.5,"strokeWidth":0.8,"color":"#000"},"encoding":{"x":{"field":"from","type":"nominal","bandPosition":0,"axis":{"labelExpr":"split(datum.value,' ')[1]","title":null}},"x2":{"field":"to","bandPosition":1},"y":{"datum":0,"type":"quantitative","axis":{"values":[0,50,100,150,200,250],"labelOverlap":false,"title":"Fold - Increase"}}}},
{"data":{"name":"grp"},"transform":[{"filter":"datum.from === 'ATG5 Contra'"}],"mark":{"type":"text","fontSize":6,"fontWeight":"bold","baseline":"middle","yOffset":18.5,"color":"#000"},"encoding":{"x":{"field":"from","type":"nominal","bandPosition":1.269,"axis":{"labelExpr":"split(datum.value,' ')[1]","title":null}},"y":{"datum":0,"type":"quantitative","axis":{"values":[0,50,100,150,200,250],"labelOverlap":false,"title":"Fold - Increase"}},"text":{"field":"label"}}},
{"data":{"name":"grp"},"transform":[{"filter":"datum.from === 'LysMCre Contra'"}],"mark":{"type":"text","fontSize":6,"fontWeight":"bold","baseline":"middle","align":"left","yOffset":18.5,"color":"#000"},"encoding":{"x":{"field":"from","type":"nominal","bandPosition":0,"axis":{"labelExpr":"split(datum.value,' ')[1]","title":null}},"y":{"datum":0,"type":"quantitative","axis":{"values":[0,50,100,150,200,250],"labelOverlap":false,"title":"Fold - Increase"}},"text":{"field":"label"}}}
]},
{"width":91,"height":90,"title":{"text":"MCP-1","offset":7},"layer":[
{"data":{"name":"bars"},"transform":[{"filter":{"field":"panel","equal":"day 3/MCP-1"}}],"mark":"bar","encoding":{"x":{"field":"cond","type":"nominal","scale":{"domain":["ATG5 Contra","ATG5 Ipsi","LysMCre Contra","LysMCre Ipsi"],"paddingInner":0.35,"paddingOuter":0.28},"axis":{"labelExpr":"split(datum.value,' ')[1]","title":null}},"y":{"field":"mean","type":"quantitative","scale":{"domain":[0,150],"nice":false},"axis":{"values":[0,50,100,150],"labelOverlap":false,"title":"Fold - Increase"}},"color":{"field":"cond","type":"nominal","scale":{"domain":["ATG5 Contra","ATG5 Ipsi","LysMCre Contra","LysMCre Ipsi"],"range":["#dcdcdc","#aaaaaa","#5e5e5e","#000000"]},"legend":null}}},
{"data":{"name":"bars"},"transform":[{"filter":{"field":"panel","equal":"day 3/MCP-1"}}],"mark":{"type":"rule","strokeWidth":1.2},"encoding":{"x":{"field":"cond","type":"nominal","axis":{"labelExpr":"split(datum.value,' ')[1]","title":null}},"y":{"field":"mean","type":"quantitative","axis":{"values":[0,50,100,150],"labelOverlap":false,"title":"Fold - Increase"}},"y2":{"field":"hi"},"color":{"field":"cond","type":"nominal","legend":null}}},
{"data":{"name":"bars"},"transform":[{"filter":{"field":"panel","equal":"day 3/MCP-1"}}],"mark":{"type":"tick","thickness":1.2,"size":8},"encoding":{"x":{"field":"cond","type":"nominal","axis":{"labelExpr":"split(datum.value,' ')[1]","title":null}},"y":{"field":"hi","type":"quantitative","axis":{"values":[0,50,100,150],"labelOverlap":false,"title":"Fold - Increase"}},"color":{"field":"cond","type":"nominal","legend":null}}},
{"data":{"name":"sig"},"transform":[{"filter":{"field":"panel","equal":"day 3/MCP-1"}}],"mark":{"type":"rule","strokeWidth":1.2,"color":"#000"},"encoding":{"x":{"field":"from","type":"nominal","axis":{"labelExpr":"split(datum.value,' ')[1]","title":null}},"x2":{"field":"to"},"y":{"field":"level","type":"quantitative","axis":{"values":[0,50,100,150],"labelOverlap":false,"title":"Fold - Increase"}}}},
{"data":{"name":"sig"},"transform":[{"filter":{"field":"panel","equal":"day 3/MCP-1"}},{"filter":"datum.sym !== '*'"}],"mark":{"type":"text","fontSize":7,"fontWeight":"bold","fontStyle":"italic","baseline":"bottom","dy":-1,"color":"#000"},"encoding":{"x":{"field":"from","type":"nominal","bandPosition":1.269,"axis":{"labelExpr":"split(datum.value,' ')[1]","title":null}},"y":{"field":"level","type":"quantitative","axis":{"values":[0,50,100,150],"labelOverlap":false,"title":"Fold - Increase"}},"text":{"field":"sym"}}},
{"data":{"name":"sig"},"transform":[{"filter":{"field":"panel","equal":"day 3/MCP-1"}},{"filter":"datum.sym === '*'"}],"mark":{"type":"text","fontSize":7,"fontWeight":"bold","baseline":"bottom","dy":-1,"color":"#000"},"encoding":{"x":{"field":"from","type":"nominal","bandPosition":2.038,"axis":{"labelExpr":"split(datum.value,' ')[1]","title":null}},"y":{"field":"level","type":"quantitative","axis":{"values":[0,50,100,150],"labelOverlap":false,"title":"Fold - Increase"}},"text":{"field":"sym"}}},
{"data":{"name":"grp"},"mark":{"type":"rule","yOffset":10.5,"strokeWidth":0.8,"color":"#000"},"encoding":{"x":{"field":"from","type":"nominal","bandPosition":0,"axis":{"labelExpr":"split(datum.value,' ')[1]","title":null}},"x2":{"field":"to","bandPosition":1},"y":{"datum":0,"type":"quantitative","axis":{"values":[0,50,100,150],"labelOverlap":false,"title":"Fold - Increase"}}}},
{"data":{"name":"grp"},"transform":[{"filter":"datum.from === 'ATG5 Contra'"}],"mark":{"type":"text","fontSize":6,"fontWeight":"bold","baseline":"middle","yOffset":18.5,"color":"#000"},"encoding":{"x":{"field":"from","type":"nominal","bandPosition":1.269,"axis":{"labelExpr":"split(datum.value,' ')[1]","title":null}},"y":{"datum":0,"type":"quantitative","axis":{"values":[0,50,100,150],"labelOverlap":false,"title":"Fold - Increase"}},"text":{"field":"label"}}},
{"data":{"name":"grp"},"transform":[{"filter":"datum.from === 'LysMCre Contra'"}],"mark":{"type":"text","fontSize":6,"fontWeight":"bold","baseline":"middle","align":"left","yOffset":18.5,"color":"#000"},"encoding":{"x":{"field":"from","type":"nominal","bandPosition":0,"axis":{"labelExpr":"split(datum.value,' ')[1]","title":null}},"y":{"datum":0,"type":"quantitative","axis":{"values":[0,50,100,150],"labelOverlap":false,"title":"Fold - Increase"}},"text":{"field":"label"}}}
]}
]}]},
{"title":{"text":"C","orient":"top","anchor":"start","frame":"bounds","offset":-14,"fontSize":14,"fontWeight":"bold","color":"#000","dx":12},
 "hconcat":[{"title":{"text":"day 7","orient":"left","angle":0,"anchor":"middle","frame":"bounds","align":"right","baseline":"middle","fontSize":13,"fontWeight":"bold","color":"#000","offset":-21},
  "spacing":42,"bounds":"flush","hconcat":[
{"width":97,"height":90,"title":{"text":"IL-1β","offset":7},"layer":[
{"data":{"name":"bars"},"transform":[{"filter":{"field":"panel","equal":"day 7/IL-1β"}}],"mark":"bar","encoding":{"x":{"field":"cond","type":"nominal","scale":{"domain":["ATG5 Contra","ATG5 Ipsi","LysMCre Contra","LysMCre Ipsi"],"paddingInner":0.35,"paddingOuter":0.28},"axis":{"labelExpr":"split(datum.value,' ')[1]","title":null}},"y":{"field":"mean","type":"quantitative","scale":{"domain":[0,20],"nice":false},"axis":{"values":[0,5,10,15,20],"labelOverlap":false,"title":"Fold - Increase"}},"color":{"field":"cond","type":"nominal","scale":{"domain":["ATG5 Contra","ATG5 Ipsi","LysMCre Contra","LysMCre Ipsi"],"range":["#dcdcdc","#aaaaaa","#5e5e5e","#000000"]},"legend":null}}},
{"data":{"name":"bars"},"transform":[{"filter":{"field":"panel","equal":"day 7/IL-1β"}}],"mark":{"type":"rule","strokeWidth":1.2},"encoding":{"x":{"field":"cond","type":"nominal","axis":{"labelExpr":"split(datum.value,' ')[1]","title":null}},"y":{"field":"mean","type":"quantitative","axis":{"values":[0,5,10,15,20],"labelOverlap":false,"title":"Fold - Increase"}},"y2":{"field":"hi"},"color":{"field":"cond","type":"nominal","legend":null}}},
{"data":{"name":"bars"},"transform":[{"filter":{"field":"panel","equal":"day 7/IL-1β"}}],"mark":{"type":"tick","thickness":1.2,"size":8},"encoding":{"x":{"field":"cond","type":"nominal","axis":{"labelExpr":"split(datum.value,' ')[1]","title":null}},"y":{"field":"hi","type":"quantitative","axis":{"values":[0,5,10,15,20],"labelOverlap":false,"title":"Fold - Increase"}},"color":{"field":"cond","type":"nominal","legend":null}}},
{"data":{"name":"sig"},"transform":[{"filter":{"field":"panel","equal":"day 7/IL-1β"}}],"mark":{"type":"rule","strokeWidth":1.2,"color":"#000"},"encoding":{"x":{"field":"from","type":"nominal","axis":{"labelExpr":"split(datum.value,' ')[1]","title":null}},"x2":{"field":"to"},"y":{"field":"level","type":"quantitative","axis":{"values":[0,5,10,15,20],"labelOverlap":false,"title":"Fold - Increase"}}}},
{"data":{"name":"sig"},"transform":[{"filter":{"field":"panel","equal":"day 7/IL-1β"}},{"filter":"datum.sym !== '*'"}],"mark":{"type":"text","fontSize":7,"fontWeight":"bold","fontStyle":"italic","baseline":"bottom","dy":-1,"color":"#000"},"encoding":{"x":{"field":"from","type":"nominal","bandPosition":1.269,"axis":{"labelExpr":"split(datum.value,' ')[1]","title":null}},"y":{"field":"level","type":"quantitative","axis":{"values":[0,5,10,15,20],"labelOverlap":false,"title":"Fold - Increase"}},"text":{"field":"sym"}}},
{"data":{"name":"sig"},"transform":[{"filter":{"field":"panel","equal":"day 7/IL-1β"}},{"filter":"datum.sym === '*'"}],"mark":{"type":"text","fontSize":7,"fontWeight":"bold","baseline":"bottom","dy":-1,"color":"#000"},"encoding":{"x":{"field":"from","type":"nominal","bandPosition":2.038,"axis":{"labelExpr":"split(datum.value,' ')[1]","title":null}},"y":{"field":"level","type":"quantitative","axis":{"values":[0,5,10,15,20],"labelOverlap":false,"title":"Fold - Increase"}},"text":{"field":"sym"}}},
{"data":{"name":"grp"},"mark":{"type":"rule","yOffset":10.5,"strokeWidth":0.8,"color":"#000"},"encoding":{"x":{"field":"from","type":"nominal","bandPosition":0,"axis":{"labelExpr":"split(datum.value,' ')[1]","title":null}},"x2":{"field":"to","bandPosition":1},"y":{"datum":0,"type":"quantitative","axis":{"values":[0,5,10,15,20],"labelOverlap":false,"title":"Fold - Increase"}}}},
{"data":{"name":"grp"},"transform":[{"filter":"datum.from === 'ATG5 Contra'"}],"mark":{"type":"text","fontSize":6,"fontWeight":"bold","baseline":"middle","yOffset":18.5,"color":"#000"},"encoding":{"x":{"field":"from","type":"nominal","bandPosition":1.269,"axis":{"labelExpr":"split(datum.value,' ')[1]","title":null}},"y":{"datum":0,"type":"quantitative","axis":{"values":[0,5,10,15,20],"labelOverlap":false,"title":"Fold - Increase"}},"text":{"field":"label"}}},
{"data":{"name":"grp"},"transform":[{"filter":"datum.from === 'LysMCre Contra'"}],"mark":{"type":"text","fontSize":6,"fontWeight":"bold","baseline":"middle","align":"left","yOffset":18.5,"color":"#000"},"encoding":{"x":{"field":"from","type":"nominal","bandPosition":0,"axis":{"labelExpr":"split(datum.value,' ')[1]","title":null}},"y":{"datum":0,"type":"quantitative","axis":{"values":[0,5,10,15,20],"labelOverlap":false,"title":"Fold - Increase"}},"text":{"field":"label"}}}
]},
{"width":92,"height":90,"title":{"text":"TNFα","offset":0},"layer":[
{"data":{"name":"bars"},"transform":[{"filter":{"field":"panel","equal":"day 7/TNFα"}}],"mark":"bar","encoding":{"x":{"field":"cond","type":"nominal","scale":{"domain":["ATG5 Contra","ATG5 Ipsi","LysMCre Contra","LysMCre Ipsi"],"paddingInner":0.35,"paddingOuter":0.28},"axis":{"labelExpr":"split(datum.value,' ')[1]","title":null}},"y":{"field":"mean","type":"quantitative","scale":{"domain":[0,60],"nice":false},"axis":{"values":[0,20,40,60],"labelOverlap":false,"title":"Fold - Increase"}},"color":{"field":"cond","type":"nominal","scale":{"domain":["ATG5 Contra","ATG5 Ipsi","LysMCre Contra","LysMCre Ipsi"],"range":["#dcdcdc","#aaaaaa","#5e5e5e","#000000"]},"legend":null}}},
{"data":{"name":"bars"},"transform":[{"filter":{"field":"panel","equal":"day 7/TNFα"}}],"mark":{"type":"rule","strokeWidth":1.2},"encoding":{"x":{"field":"cond","type":"nominal","axis":{"labelExpr":"split(datum.value,' ')[1]","title":null}},"y":{"field":"mean","type":"quantitative","axis":{"values":[0,20,40,60],"labelOverlap":false,"title":"Fold - Increase"}},"y2":{"field":"hi"},"color":{"field":"cond","type":"nominal","legend":null}}},
{"data":{"name":"bars"},"transform":[{"filter":{"field":"panel","equal":"day 7/TNFα"}}],"mark":{"type":"tick","thickness":1.2,"size":8},"encoding":{"x":{"field":"cond","type":"nominal","axis":{"labelExpr":"split(datum.value,' ')[1]","title":null}},"y":{"field":"hi","type":"quantitative","axis":{"values":[0,20,40,60],"labelOverlap":false,"title":"Fold - Increase"}},"color":{"field":"cond","type":"nominal","legend":null}}},
{"data":{"name":"sig"},"transform":[{"filter":{"field":"panel","equal":"day 7/TNFα"}}],"mark":{"type":"rule","strokeWidth":1.2,"color":"#000"},"encoding":{"x":{"field":"from","type":"nominal","axis":{"labelExpr":"split(datum.value,' ')[1]","title":null}},"x2":{"field":"to"},"y":{"field":"level","type":"quantitative","axis":{"values":[0,20,40,60],"labelOverlap":false,"title":"Fold - Increase"}}}},
{"data":{"name":"sig"},"transform":[{"filter":{"field":"panel","equal":"day 7/TNFα"}},{"filter":"datum.sym !== '*'"}],"mark":{"type":"text","fontSize":7,"fontWeight":"bold","fontStyle":"italic","baseline":"bottom","dy":-1,"color":"#000"},"encoding":{"x":{"field":"from","type":"nominal","bandPosition":1.269,"axis":{"labelExpr":"split(datum.value,' ')[1]","title":null}},"y":{"field":"level","type":"quantitative","axis":{"values":[0,20,40,60],"labelOverlap":false,"title":"Fold - Increase"}},"text":{"field":"sym"}}},
{"data":{"name":"sig"},"transform":[{"filter":{"field":"panel","equal":"day 7/TNFα"}},{"filter":"datum.sym === '*'"}],"mark":{"type":"text","fontSize":7,"fontWeight":"bold","baseline":"bottom","dy":-1,"color":"#000"},"encoding":{"x":{"field":"from","type":"nominal","bandPosition":2.038,"axis":{"labelExpr":"split(datum.value,' ')[1]","title":null}},"y":{"field":"level","type":"quantitative","axis":{"values":[0,20,40,60],"labelOverlap":false,"title":"Fold - Increase"}},"text":{"field":"sym"}}},
{"data":{"name":"grp"},"mark":{"type":"rule","yOffset":10.5,"strokeWidth":0.8,"color":"#000"},"encoding":{"x":{"field":"from","type":"nominal","bandPosition":0,"axis":{"labelExpr":"split(datum.value,' ')[1]","title":null}},"x2":{"field":"to","bandPosition":1},"y":{"datum":0,"type":"quantitative","axis":{"values":[0,20,40,60],"labelOverlap":false,"title":"Fold - Increase"}}}},
{"data":{"name":"grp"},"transform":[{"filter":"datum.from === 'ATG5 Contra'"}],"mark":{"type":"text","fontSize":6,"fontWeight":"bold","baseline":"middle","yOffset":18.5,"color":"#000"},"encoding":{"x":{"field":"from","type":"nominal","bandPosition":1.269,"axis":{"labelExpr":"split(datum.value,' ')[1]","title":null}},"y":{"datum":0,"type":"quantitative","axis":{"values":[0,20,40,60],"labelOverlap":false,"title":"Fold - Increase"}},"text":{"field":"label"}}},
{"data":{"name":"grp"},"transform":[{"filter":"datum.from === 'LysMCre Contra'"}],"mark":{"type":"text","fontSize":6,"fontWeight":"bold","baseline":"middle","align":"left","yOffset":18.5,"color":"#000"},"encoding":{"x":{"field":"from","type":"nominal","bandPosition":0,"axis":{"labelExpr":"split(datum.value,' ')[1]","title":null}},"y":{"datum":0,"type":"quantitative","axis":{"values":[0,20,40,60],"labelOverlap":false,"title":"Fold - Increase"}},"text":{"field":"label"}}}
]},
{"width":91,"height":90,"title":{"text":"IL-6","offset":7},"layer":[
{"data":{"name":"bars"},"transform":[{"filter":{"field":"panel","equal":"day 7/IL-6"}}],"mark":"bar","encoding":{"x":{"field":"cond","type":"nominal","scale":{"domain":["ATG5 Contra","ATG5 Ipsi","LysMCre Contra","LysMCre Ipsi"],"paddingInner":0.35,"paddingOuter":0.28},"axis":{"labelExpr":"split(datum.value,' ')[1]","title":null}},"y":{"field":"mean","type":"quantitative","scale":{"domain":[0,20],"nice":false},"axis":{"values":[0,5,10,15,20],"labelOverlap":false,"title":"Fold - Increase"}},"color":{"field":"cond","type":"nominal","scale":{"domain":["ATG5 Contra","ATG5 Ipsi","LysMCre Contra","LysMCre Ipsi"],"range":["#dcdcdc","#aaaaaa","#5e5e5e","#000000"]},"legend":null}}},
{"data":{"name":"bars"},"transform":[{"filter":{"field":"panel","equal":"day 7/IL-6"}}],"mark":{"type":"rule","strokeWidth":1.2},"encoding":{"x":{"field":"cond","type":"nominal","axis":{"labelExpr":"split(datum.value,' ')[1]","title":null}},"y":{"field":"mean","type":"quantitative","axis":{"values":[0,5,10,15,20],"labelOverlap":false,"title":"Fold - Increase"}},"y2":{"field":"hi"},"color":{"field":"cond","type":"nominal","legend":null}}},
{"data":{"name":"bars"},"transform":[{"filter":{"field":"panel","equal":"day 7/IL-6"}}],"mark":{"type":"tick","thickness":1.2,"size":8},"encoding":{"x":{"field":"cond","type":"nominal","axis":{"labelExpr":"split(datum.value,' ')[1]","title":null}},"y":{"field":"hi","type":"quantitative","axis":{"values":[0,5,10,15,20],"labelOverlap":false,"title":"Fold - Increase"}},"color":{"field":"cond","type":"nominal","legend":null}}},
{"data":{"name":"grp"},"mark":{"type":"rule","yOffset":10.5,"strokeWidth":0.8,"color":"#000"},"encoding":{"x":{"field":"from","type":"nominal","bandPosition":0,"axis":{"labelExpr":"split(datum.value,' ')[1]","title":null}},"x2":{"field":"to","bandPosition":1},"y":{"datum":0,"type":"quantitative","axis":{"values":[0,5,10,15,20],"labelOverlap":false,"title":"Fold - Increase"}}}},
{"data":{"name":"grp"},"transform":[{"filter":"datum.from === 'ATG5 Contra'"}],"mark":{"type":"text","fontSize":6,"fontWeight":"bold","baseline":"middle","yOffset":18.5,"color":"#000"},"encoding":{"x":{"field":"from","type":"nominal","bandPosition":1.269,"axis":{"labelExpr":"split(datum.value,' ')[1]","title":null}},"y":{"datum":0,"type":"quantitative","axis":{"values":[0,5,10,15,20],"labelOverlap":false,"title":"Fold - Increase"}},"text":{"field":"label"}}},
{"data":{"name":"grp"},"transform":[{"filter":"datum.from === 'LysMCre Contra'"}],"mark":{"type":"text","fontSize":6,"fontWeight":"bold","baseline":"middle","align":"left","yOffset":18.5,"color":"#000"},"encoding":{"x":{"field":"from","type":"nominal","bandPosition":0,"axis":{"labelExpr":"split(datum.value,' ')[1]","title":null}},"y":{"datum":0,"type":"quantitative","axis":{"values":[0,5,10,15,20],"labelOverlap":false,"title":"Fold - Increase"}},"text":{"field":"label"}}}
]},
{"width":90,"height":90,"title":{"text":"MMP-9","offset":1},"layer":[
{"data":{"name":"bars"},"transform":[{"filter":{"field":"panel","equal":"day 7/MMP-9"}}],"mark":"bar","encoding":{"x":{"field":"cond","type":"nominal","scale":{"domain":["ATG5 Contra","ATG5 Ipsi","LysMCre Contra","LysMCre Ipsi"],"paddingInner":0.35,"paddingOuter":0.28},"axis":{"labelExpr":"split(datum.value,' ')[1]","title":null}},"y":{"field":"mean","type":"quantitative","scale":{"domain":[0,250],"nice":false},"axis":{"values":[0,50,100,150,200,250],"labelOverlap":false,"title":"Fold - Increase"}},"color":{"field":"cond","type":"nominal","scale":{"domain":["ATG5 Contra","ATG5 Ipsi","LysMCre Contra","LysMCre Ipsi"],"range":["#dcdcdc","#aaaaaa","#5e5e5e","#000000"]},"legend":null}}},
{"data":{"name":"bars"},"transform":[{"filter":{"field":"panel","equal":"day 7/MMP-9"}}],"mark":{"type":"rule","strokeWidth":1.2},"encoding":{"x":{"field":"cond","type":"nominal","axis":{"labelExpr":"split(datum.value,' ')[1]","title":null}},"y":{"field":"mean","type":"quantitative","axis":{"values":[0,50,100,150,200,250],"labelOverlap":false,"title":"Fold - Increase"}},"y2":{"field":"hi"},"color":{"field":"cond","type":"nominal","legend":null}}},
{"data":{"name":"bars"},"transform":[{"filter":{"field":"panel","equal":"day 7/MMP-9"}}],"mark":{"type":"tick","thickness":1.2,"size":8},"encoding":{"x":{"field":"cond","type":"nominal","axis":{"labelExpr":"split(datum.value,' ')[1]","title":null}},"y":{"field":"hi","type":"quantitative","axis":{"values":[0,50,100,150,200,250],"labelOverlap":false,"title":"Fold - Increase"}},"color":{"field":"cond","type":"nominal","legend":null}}},
{"data":{"name":"sig"},"transform":[{"filter":{"field":"panel","equal":"day 7/MMP-9"}}],"mark":{"type":"rule","strokeWidth":1.2,"color":"#000"},"encoding":{"x":{"field":"from","type":"nominal","axis":{"labelExpr":"split(datum.value,' ')[1]","title":null}},"x2":{"field":"to"},"y":{"field":"level","type":"quantitative","axis":{"values":[0,50,100,150,200,250],"labelOverlap":false,"title":"Fold - Increase"}}}},
{"data":{"name":"sig"},"transform":[{"filter":{"field":"panel","equal":"day 7/MMP-9"}},{"filter":"datum.sym !== '*'"}],"mark":{"type":"text","fontSize":7,"fontWeight":"bold","fontStyle":"italic","baseline":"bottom","dy":-1,"color":"#000"},"encoding":{"x":{"field":"from","type":"nominal","bandPosition":1.269,"axis":{"labelExpr":"split(datum.value,' ')[1]","title":null}},"y":{"field":"level","type":"quantitative","axis":{"values":[0,50,100,150,200,250],"labelOverlap":false,"title":"Fold - Increase"}},"text":{"field":"sym"}}},
{"data":{"name":"grp"},"mark":{"type":"rule","yOffset":10.5,"strokeWidth":0.8,"color":"#000"},"encoding":{"x":{"field":"from","type":"nominal","bandPosition":0,"axis":{"labelExpr":"split(datum.value,' ')[1]","title":null}},"x2":{"field":"to","bandPosition":1},"y":{"datum":0,"type":"quantitative","axis":{"values":[0,50,100,150,200,250],"labelOverlap":false,"title":"Fold - Increase"}}}},
{"data":{"name":"grp"},"transform":[{"filter":"datum.from === 'ATG5 Contra'"}],"mark":{"type":"text","fontSize":6,"fontWeight":"bold","baseline":"middle","yOffset":18.5,"color":"#000"},"encoding":{"x":{"field":"from","type":"nominal","bandPosition":1.269,"axis":{"labelExpr":"split(datum.value,' ')[1]","title":null}},"y":{"datum":0,"type":"quantitative","axis":{"values":[0,50,100,150,200,250],"labelOverlap":false,"title":"Fold - Increase"}},"text":{"field":"label"}}},
{"data":{"name":"grp"},"transform":[{"filter":"datum.from === 'LysMCre Contra'"}],"mark":{"type":"text","fontSize":6,"fontWeight":"bold","baseline":"middle","align":"left","yOffset":18.5,"color":"#000"},"encoding":{"x":{"field":"from","type":"nominal","bandPosition":0,"axis":{"labelExpr":"split(datum.value,' ')[1]","title":null}},"y":{"datum":0,"type":"quantitative","axis":{"values":[0,50,100,150,200,250],"labelOverlap":false,"title":"Fold - Increase"}},"text":{"field":"label"}}}
]},
{"width":91,"height":90,"title":{"text":"MCP-1","offset":7},"layer":[
{"data":{"name":"bars"},"transform":[{"filter":{"field":"panel","equal":"day 7/MCP-1"}}],"mark":"bar","encoding":{"x":{"field":"cond","type":"nominal","scale":{"domain":["ATG5 Contra","ATG5 Ipsi","LysMCre Contra","LysMCre Ipsi"],"paddingInner":0.35,"paddingOuter":0.28},"axis":{"labelExpr":"split(datum.value,' ')[1]","title":null}},"y":{"field":"mean","type":"quantitative","scale":{"domain":[0,40],"nice":false},"axis":{"values":[0,10,20,30,40],"labelOverlap":false,"title":"Fold - Increase"}},"color":{"field":"cond","type":"nominal","scale":{"domain":["ATG5 Contra","ATG5 Ipsi","LysMCre Contra","LysMCre Ipsi"],"range":["#dcdcdc","#aaaaaa","#5e5e5e","#000000"]},"legend":null}}},
{"data":{"name":"bars"},"transform":[{"filter":{"field":"panel","equal":"day 7/MCP-1"}}],"mark":{"type":"rule","strokeWidth":1.2},"encoding":{"x":{"field":"cond","type":"nominal","axis":{"labelExpr":"split(datum.value,' ')[1]","title":null}},"y":{"field":"mean","type":"quantitative","axis":{"values":[0,10,20,30,40],"labelOverlap":false,"title":"Fold - Increase"}},"y2":{"field":"hi"},"color":{"field":"cond","type":"nominal","legend":null}}},
{"data":{"name":"bars"},"transform":[{"filter":{"field":"panel","equal":"day 7/MCP-1"}}],"mark":{"type":"tick","thickness":1.2,"size":8},"encoding":{"x":{"field":"cond","type":"nominal","axis":{"labelExpr":"split(datum.value,' ')[1]","title":null}},"y":{"field":"hi","type":"quantitative","axis":{"values":[0,10,20,30,40],"labelOverlap":false,"title":"Fold - Increase"}},"color":{"field":"cond","type":"nominal","legend":null}}},
{"data":{"name":"sig"},"transform":[{"filter":{"field":"panel","equal":"day 7/MCP-1"}}],"mark":{"type":"rule","strokeWidth":1.2,"color":"#000"},"encoding":{"x":{"field":"from","type":"nominal","axis":{"labelExpr":"split(datum.value,' ')[1]","title":null}},"x2":{"field":"to"},"y":{"field":"level","type":"quantitative","axis":{"values":[0,10,20,30,40],"labelOverlap":false,"title":"Fold - Increase"}}}},
{"data":{"name":"sig"},"transform":[{"filter":{"field":"panel","equal":"day 7/MCP-1"}},{"filter":"datum.sym !== '*'"}],"mark":{"type":"text","fontSize":7,"fontWeight":"bold","fontStyle":"italic","baseline":"bottom","dy":-1,"color":"#000"},"encoding":{"x":{"field":"from","type":"nominal","bandPosition":1.269,"axis":{"labelExpr":"split(datum.value,' ')[1]","title":null}},"y":{"field":"level","type":"quantitative","axis":{"values":[0,10,20,30,40],"labelOverlap":false,"title":"Fold - Increase"}},"text":{"field":"sym"}}},
{"data":{"name":"grp"},"mark":{"type":"rule","yOffset":10.5,"strokeWidth":0.8,"color":"#000"},"encoding":{"x":{"field":"from","type":"nominal","bandPosition":0,"axis":{"labelExpr":"split(datum.value,' ')[1]","title":null}},"x2":{"field":"to","bandPosition":1},"y":{"datum":0,"type":"quantitative","axis":{"values":[0,10,20,30,40],"labelOverlap":false,"title":"Fold - Increase"}}}},
{"data":{"name":"grp"},"transform":[{"filter":"datum.from === 'ATG5 Contra'"}],"mark":{"type":"text","fontSize":6,"fontWeight":"bold","baseline":"middle","yOffset":18.5,"color":"#000"},"encoding":{"x":{"field":"from","type":"nominal","bandPosition":1.269,"axis":{"labelExpr":"split(datum.value,' ')[1]","title":null}},"y":{"datum":0,"type":"quantitative","axis":{"values":[0,10,20,30,40],"labelOverlap":false,"title":"Fold - Increase"}},"text":{"field":"label"}}},
{"data":{"name":"grp"},"transform":[{"filter":"datum.from === 'LysMCre Contra'"}],"mark":{"type":"text","fontSize":6,"fontWeight":"bold","baseline":"middle","align":"left","yOffset":18.5,"color":"#000"},"encoding":{"x":{"field":"from","type":"nominal","bandPosition":0,"axis":{"labelExpr":"split(datum.value,' ')[1]","title":null}},"y":{"datum":0,"type":"quantitative","axis":{"values":[0,10,20,30,40],"labelOverlap":false,"title":"Fold - Increase"}},"text":{"field":"label"}}}
]}
]}]}
]}
],
"config": {
"font": "Liberation Sans",
"numberFormat": "d",
"view": {"stroke": null},
"axis": {"domainColor": "#000", "domainWidth": 1.3, "tickColor": "#000", "tickWidth": 1.2, "tickSize": 3, "labelColor": "#000", "labelFont": "Liberation Sans", "labelFontWeight": "bold", "labelFontSize": 6.5, "labelOverlap": false, "titleFont": "Liberation Sans", "titleFontWeight": "bold", "titleFontSize": 7.5, "titleColor": "#000", "grid": false},
"axisX": {"ticks": false, "labelAngle": 0, "labelPadding": 2},
"axisY": {"labelPadding": 1, "titlePadding": 3},
"title": {"font": "Liberation Sans", "fontSize": 9.5, "fontWeight": "normal", "color": "#222", "frame": "group", "anchor": "middle"}
}
}
